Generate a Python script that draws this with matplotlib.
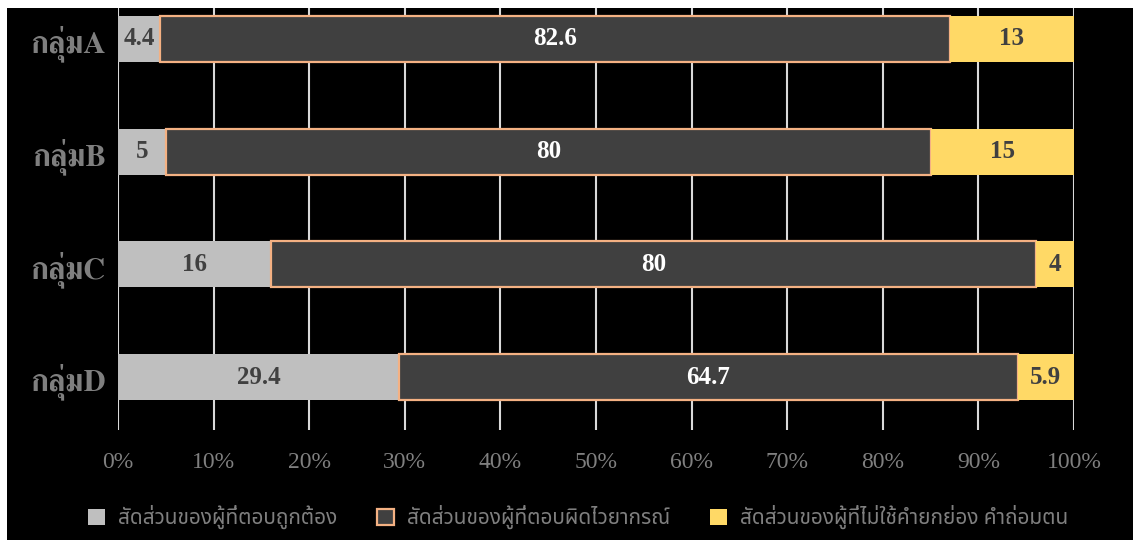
import numpy as np
import matplotlib
matplotlib.use("Agg")
import matplotlib.pyplot as plt
from matplotlib.patches import Rectangle, Patch

groups = ["กลุ่มA", "กลุ่มB", "กลุ่มC", "กลุ่มD"]
correct = [4.4, 5, 16, 29.4]
grammar = [82.6, 80, 80, 64.7]
no_honorific = [13, 15, 4, 5.9]
series_names = [
    "สัดส่วนของผู้ที่ตอบถูกต้อง",
    "สัดส่วนของผู้ที่ตอบผิดไวยากรณ์",
    "สัดส่วนของผู้ที่ไม่ใช้คำยกย่อง คำถ่อมตน",
]
ticks = np.arange(0, 101, 10)

gray_txt = "#7f7f7f"
serif = ["Liberation Serif", "FreeSerif", "DejaVu Serif"]
thai_serif = ["FreeSerif", "Noto Serif Thai", "DejaVu Serif"]
thai_sans = ["Noto Sans Thai", "DejaVu Sans"]

fig = plt.figure(figsize=(11.33, 5.4), dpi=100, facecolor="white")
# black panel, leaving the thin white margin on the left and top
fig.patches.append(Rectangle((7 / 1133, 0), 1, 1 - 8 / 540, transform=fig.transFigure,
                             facecolor="black", edgecolor="none", zorder=-10))

ax = fig.add_axes([118 / 1133, 1 - 430 / 540, 956 / 1133, 422 / 540])
ax.set_facecolor("black")
ax.patch.set_alpha(0)

y = np.arange(len(groups))
h = 0.41
left = np.zeros(len(groups))
styles = [
    dict(color="#bfbfbf", edgecolor="none", txt="#404040"),
    dict(color="#404040", edgecolor="#f4b183", txt="white"),
    dict(color="#ffd966", edgecolor="none", txt="#404040"),
]
handles = []
for vals, st, name in zip([correct, grammar, no_honorific], styles, series_names):
    vals = np.array(vals, dtype=float)
    ax.barh(y, vals, left=left, height=h, color=st["color"], edgecolor=st["edgecolor"],
            linewidth=1.6, zorder=3)
    for yi, l, v in zip(y, left, vals):
        ax.text(l + v / 2, yi, f"{v:g}", ha="center", va="center", color=st["txt"],
                fontsize=18, fontweight="bold", family=serif, zorder=4)
    left += vals
    handles.append(Patch(facecolor=st["color"], edgecolor=st["edgecolor"], linewidth=1.6, label=name))

for t in ticks:
    ax.axvline(t, color="#d9d9d9", linewidth=1.5, zorder=1)

ax.set_xlim(0, 100)
ax.set_ylim(3.47, -0.275)
ax.set_xticks(ticks)
ax.set_xticklabels([f"{t}%" for t in ticks], family=serif, fontsize=17, color=gray_txt)
ax.set_yticks(y)
ax.set_yticklabels(groups, family=thai_serif, fontsize=22, fontweight="bold", color=gray_txt)
ax.tick_params(length=0)
ax.tick_params(axis="x", pad=16)
ax.tick_params(axis="y", pad=9)
for s in ax.spines.values():
    s.set_visible(False)

leg = fig.legend(handles=handles, loc="center", bbox_to_anchor=(0.51, 0.042), ncol=3,
                 frameon=False, handlelength=0.85, handleheight=0.85, columnspacing=1.9,
                 handletextpad=0.6, prop=dict(family=thai_sans, size=15, weight="bold"))
for t in leg.get_texts():
    t.set_color(gray_txt)

fig.savefig("out.png", dpi=100, facecolor=fig.get_facecolor())
